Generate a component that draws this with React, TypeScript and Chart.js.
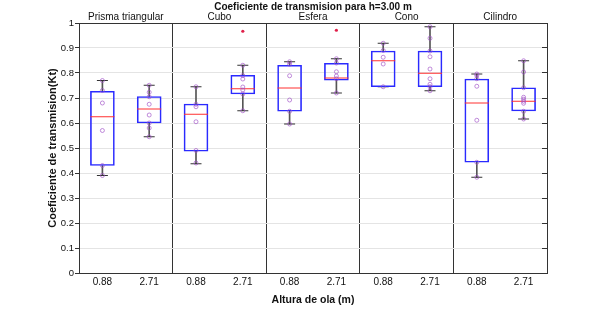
import { useEffect, useRef } from "react";
import { Chart, registerables } from "chart.js";

Chart.register(...registerables);

const chartTitle = "Coeficiente de transmision para h=3.00 m";
const xTitle = "Altura de ola (m)";
const yTitle = "Coeficiente de transmision(Kt)";
const groupNames = ["Prisma triangular", "Cubo", "Esfera", "Cono", "Cilindro"];
const waveLabels = ["0.88", "2.71", "0.88", "2.71", "0.88", "2.71", "0.88", "2.71", "0.88", "2.71"];

const whiskerLow = [0.39, 0.545, 0.437, 0.649, 0.596, 0.72, 0.745, 0.729, 0.383, 0.616];
const boxLow = [0.43, 0.6, 0.487, 0.716, 0.647, 0.771, 0.745, 0.745, 0.443, 0.648];
const medians = [0.625, 0.656, 0.635, 0.737, 0.74, 0.78, 0.849, 0.799, 0.68, 0.687];
const boxHigh = [0.727, 0.706, 0.676, 0.791, 0.831, 0.839, 0.888, 0.888, 0.776, 0.741];
const whiskerHigh = [0.77, 0.751, 0.745, 0.831, 0.845, 0.857, 0.919, 0.985, 0.796, 0.849];

const samples: number[][] = [
  [0.77, 0.73, 0.68, 0.57, 0.43, 0.39],
  [0.751, 0.723, 0.705, 0.675, 0.632, 0.6, 0.58, 0.545],
  [0.745, 0.675, 0.665, 0.605, 0.49, 0.44],
  [0.831, 0.79, 0.776, 0.744, 0.732, 0.716, 0.649],
  [0.845, 0.835, 0.789, 0.692, 0.647, 0.596],
  [0.857, 0.84, 0.805, 0.788, 0.777, 0.72],
  [0.919, 0.89, 0.863, 0.836, 0.745],
  [0.985, 0.939, 0.888, 0.865, 0.816, 0.777, 0.755, 0.745, 0.729],
  [0.796, 0.79, 0.777, 0.747, 0.611, 0.443, 0.383],
  [0.849, 0.804, 0.741, 0.703, 0.695, 0.687, 0.679, 0.647, 0.616],
];
const outliers: number[][] = [[], [], [], [0.967], [], [0.971], [], [], [], []];

const FONT = "'Liberation Sans', Arial, Helvetica, sans-serif";
const DARK = "#333333";

export default function App() {
  const ref = useRef<HTMLCanvasElement | null>(null);

  useEffect(() => {
    if (!ref.current) return;
    // unique category keys (group + wave height); ticks show only the wave height
    const catKeys = waveLabels.map((w, i) => `${groupNames[Math.floor(i / 2)]} ${w}`);
    const samplePts = samples.flatMap((vals, i) => vals.map((v) => ({ x: catKeys[i], y: v })));
    const outlierPts = outliers.flatMap((vals, i) => vals.map((v) => ({ x: catKeys[i], y: v })));

    const chart = new Chart(ref.current, {
      type: "bar",
      data: {
        labels: catKeys,
        datasets: [
          {
            type: "line",
            data: outlierPts as any,
            showLine: false,
            pointStyle: "circle",
            pointRadius: 1.6,
            pointBackgroundColor: "#e0204a",
            pointBorderWidth: 0,
            order: 0,
          },
          {
            type: "line",
            data: samplePts as any,
            showLine: false,
            pointStyle: "circle",
            pointRadius: 2,
            pointBackgroundColor: "rgba(0,0,0,0)",
            pointBorderColor: "rgba(160,80,200,0.65)",
            pointBorderWidth: 1,
            order: 1,
          },
          {
            type: "line",
            data: medians,
            showLine: false,
            pointStyle: "line",
            pointRadius: 12,
            pointBorderColor: "#ff3030",
            pointBorderWidth: 1,
            order: 2,
          },
          {
            type: "bar",
            data: boxLow.map((v, i) => [v, boxHigh[i]]) as any,
            backgroundColor: "rgba(0,0,0,0)",
            borderColor: "#2a2aff",
            borderWidth: 1,
            borderSkipped: false,
            barThickness: 24,
            grouped: false,
            order: 3,
          },
          {
            type: "line",
            data: whiskerHigh,
            showLine: false,
            pointStyle: "line",
            pointRadius: 5.5,
            pointBorderColor: DARK,
            pointBorderWidth: 1,
            order: 4,
          },
          {
            type: "line",
            data: whiskerLow,
            showLine: false,
            pointStyle: "line",
            pointRadius: 5.5,
            pointBorderColor: DARK,
            pointBorderWidth: 1,
            order: 4,
          },
          {
            type: "bar",
            data: whiskerLow.map((v, i) => [v, boxLow[i]]) as any,
            backgroundColor: "#555555",
            borderWidth: 0,
            barThickness: 1,
            grouped: false,
            order: 5,
          },
          {
            type: "bar",
            data: boxHigh.map((v, i) => [v, whiskerHigh[i]]) as any,
            backgroundColor: "#555555",
            borderWidth: 0,
            barThickness: 1,
            grouped: false,
            order: 5,
          },
        ],
      },
      options: {
        responsive: false,
        animation: false,
        layout: { padding: 0 },
        plugins: { legend: { display: false }, tooltip: { enabled: false }, title: { display: false } },
        scales: {
          x: {
            type: "category",
            position: "bottom",
            offset: true,
            grid: {
              offset: true,
              drawTicks: false,
              color: (ctx: any) => (ctx.index > 0 && ctx.index < 10 && ctx.index % 2 === 0 ? DARK : "rgba(0,0,0,0)"),
              lineWidth: 1,
            },
            border: { display: true, color: DARK, width: 1 },
            ticks: {
              padding: 3,
              color: "#111",
              font: { family: FONT, size: 10 },
              maxRotation: 0,
              autoSkip: false,
              callback: (_v: any, i: number) => waveLabels[i],
            },
            title: {
              display: true,
              text: xTitle,
              color: "#111",
              font: { family: FONT, size: 10.5, weight: "bold" },
              padding: { top: 0, bottom: 7.7 },
            },
            afterFit: (s: any) => {
              s.height = 41;
            },
          },
          x2: {
            type: "category",
            position: "top",
            labels: groupNames,
            offset: true,
            grid: { drawOnChartArea: false, drawTicks: false },
            border: { display: true, color: DARK, width: 1 },
            ticks: { padding: 0, color: "#111", font: { family: FONT, size: 10 }, maxRotation: 0, autoSkip: false },
            title: {
              display: true,
              text: chartTitle,
              color: "#111",
              font: { family: FONT, size: 10, weight: "bold" },
              padding: { top: 1, bottom: 0 },
            },
            afterFit: (s: any) => {
              s.height = 23;
            },
          },
          y: {
            type: "linear",
            position: "left",
            min: 0,
            max: 1,
            ticks: {
              stepSize: 0.1,
              padding: 1,
              color: "#111",
              font: { family: FONT, size: 9.5 },
              callback: (v: any) => String(Number(Number(v).toFixed(1))),
            },
            grid: { color: "#e4e4e4", tickColor: DARK, tickLength: 4, lineWidth: 1 },
            border: { display: true, color: DARK, width: 1 },
            title: {
              display: true,
              text: yTitle,
              color: "#111",
              font: { family: FONT, size: 11, weight: "bold" },
              padding: { top: 46.4, bottom: 0 },
            },
            afterFit: (s: any) => {
              s.width = 79;
            },
          },
          y2: {
            type: "linear",
            position: "right",
            min: 0,
            max: 1,
            ticks: { stepSize: 0.1, display: false },
            grid: { drawOnChartArea: false, color: DARK, tickLength: -5, drawTicks: true },
            border: { display: true, color: DARK, width: 1 },
            afterFit: (s: any) => {
              s.width = 58;
            },
          },
        },
      } as any,
    });
    return () => chart.destroy();
  }, []);

  return (
    <div style={{ position: "absolute", left: 0, top: 0, width: 605, height: 314, background: "#fff" }}>
      <canvas ref={ref} width={605} height={314} style={{ width: 605, height: 314, display: "block" }} />
    </div>
  );
}
